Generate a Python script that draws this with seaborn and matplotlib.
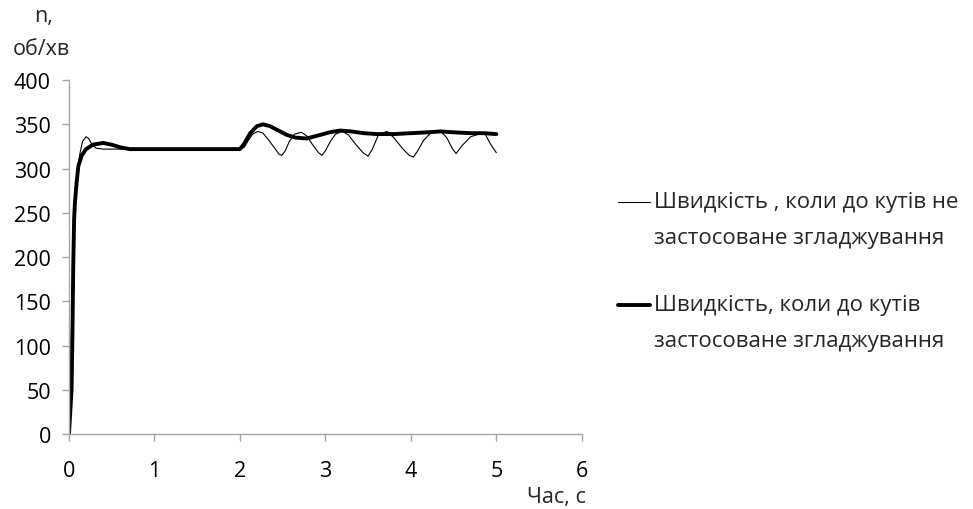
import matplotlib
matplotlib.use("Agg")
import matplotlib.pyplot as plt
from matplotlib.lines import Line2D
import seaborn as sns
import pandas as pd

# Швидкість без згладжування (тонка лінія)
t_raw = [0.00, 0.02, 0.04, 0.06, 0.08, 0.10, 0.13, 0.16, 0.20, 0.23, 0.27, 0.32, 0.40,
         0.70, 1.00, 1.50, 2.00, 2.05, 2.10, 2.15, 2.21, 2.27, 2.33, 2.40, 2.46, 2.49,
         2.53, 2.58, 2.64, 2.72, 2.78, 2.85, 2.92, 2.96, 3.00, 3.06, 3.12, 3.20, 3.27,
         3.35, 3.44, 3.50, 3.55, 3.62, 3.72, 3.80, 3.90, 3.98, 4.03, 4.08, 4.15, 4.24,
         4.34, 4.42, 4.49, 4.53, 4.60, 4.70, 4.80, 4.87, 4.93, 5.00]
n_raw = [0, 80, 170, 240, 280, 300, 318, 331, 336, 334, 327, 323, 322,
         322, 322, 322, 322, 324, 332, 339, 342, 340, 333, 324, 316, 315,
         320, 331, 339, 341, 337, 327, 318, 315, 320, 331, 339, 342, 338,
         328, 318, 314, 322, 338, 342, 335, 323, 315, 313, 320, 332, 341,
         343, 335, 322, 317, 326, 336, 339, 339, 328, 318]

# Швидкість зі згладжуванням (товста лінія)
t_smooth = [0.00, 0.03, 0.04, 0.05, 0.06, 0.07, 0.09, 0.11, 0.15, 0.20, 0.28, 0.40,
            0.50, 0.60, 0.71, 0.90, 1.50, 2.00, 2.05, 2.12, 2.20, 2.27, 2.35, 2.45,
            2.55, 2.65, 2.78, 2.90, 3.05, 3.17, 3.30, 3.45, 3.60, 3.80, 4.00, 4.20,
            4.35, 4.50, 4.70, 4.85, 5.00]
n_smooth = [0, 50, 110, 190, 243, 262, 285, 303, 315, 322, 327, 329,
            327, 324, 322, 322, 322, 322, 328, 340, 348, 350, 348, 343,
            338, 335, 334, 337, 341, 343, 342, 340, 339, 339, 340, 341,
            342, 341, 340, 340, 339]

label_raw = ["Швидкість , коли до кутів не", "застосоване згладжування"]
label_smooth = ["Швидкість, коли до кутів", "застосоване згладжування"]

df_raw = pd.DataFrame({"t": t_raw, "n": n_raw})
df_smooth = pd.DataFrame({"t": t_smooth, "n": n_smooth})

sns.set_style("white")
plt.rcParams["font.family"] = ["Open Sans", "DejaVu Sans"]

fig = plt.figure(figsize=(9.73, 5.10), dpi=100)
ax = fig.add_axes([0.0709, 0.147, 0.527, 0.694])

sns.lineplot(data=df_raw, x="t", y="n", ax=ax, color="black", linewidth=0.8,
             sort=False, estimator=None)
sns.lineplot(data=df_smooth, x="t", y="n", ax=ax, color="black", linewidth=2.8,
             sort=False, estimator=None)

ax.set_xlim(0, 6)
ax.set_ylim(0, 400)
ax.set_xticks(range(0, 7))
ax.set_yticks(range(0, 401, 50))
ax.set_xlabel("")
ax.set_ylabel("")
sns.despine(ax=ax)
for s in ["left", "bottom"]:
    ax.spines[s].set_color("#a6a6a6")
    ax.spines[s].set_linewidth(1.0)
ax.tick_params(axis="both", which="both", direction="out", length=5, width=1,
               color="#a6a6a6", labelsize=15.5, labelcolor="black", left=True, bottom=True)
ax.tick_params(axis="x", pad=14)
ax.tick_params(axis="y", pad=8)

# підписи осей
fig.text(0.045, 0.967, "n,", ha="center", va="center", fontsize=15.5)
fig.text(0.043, 0.902, "об/хв", ha="center", va="center", fontsize=15.5)
fig.text(0.602, 0.025, "Час, с", ha="right", va="center", fontsize=15.5)

# легенда
entries = [(label_raw, 0.8, 1 - 203 / 510), (label_smooth, 2.8, 1 - 306 / 510)]
for lines, lw, y in entries:
    fig.add_artist(Line2D([0.635, 0.668], [y, y], transform=fig.transFigure,
                          color="black", linewidth=lw))
    fig.text(0.672, y, lines[0], ha="left", va="center", fontsize=16)
    fig.text(0.672, y - 36 / 510, lines[1], ha="left", va="center", fontsize=16)

fig.savefig("out.png", dpi=100)
